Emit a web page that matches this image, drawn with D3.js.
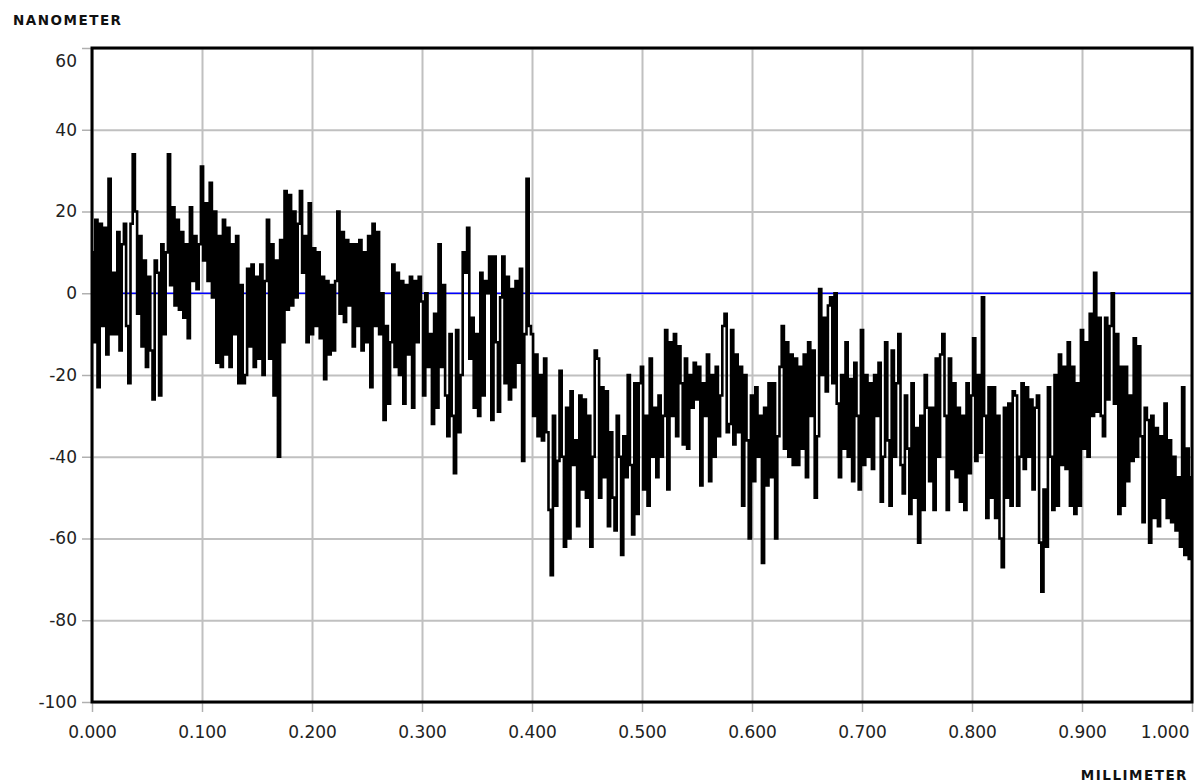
<!DOCTYPE html>
<html>
<head>
<meta charset="utf-8">
<script src="https://cdn.jsdelivr.net/npm/d3@7"></script>
<style>
  body { margin: 0; background: #fff; }
  svg { display: block; font-family: "DejaVu Sans", Verdana, sans-serif; }
</style>
</head>
<body>
<svg id="chart" width="1194" height="784"></svg>
<script>
// Axis ticks
var xTicks = [0, 0.1, 0.2, 0.3, 0.4, 0.5, 0.6, 0.7, 0.8, 0.9, 1.0];
var yTicks = [60, 40, 20, 0, -20, -40, -60, -80, -100];
var xTitle = "MILLIMETER";
var yTitle = "NANOMETER";

// Profile: one height (nm) every 0.002 mm
var sampleStep = 0.002;
var profileNm = [
  10, -12, 18, -23, 17, -8, 16, -15, 28, -10,
  5, -10, 15, -14, 12, 17, -8, -22, 17, 34,
  20, -5, 14, -13, 8, -18, 4, -14, -26, 8,
  5, -25, 12, -10, 10, 34, 2, 21, -3, 18,
  -4, 15, -6, 12, -11, 21, 3, 14, 1, 12,
  31, 8, 22, 3, 27, -1, 20, -17, 14, -18,
  18, -15, 16, -18, 12, -10, 14, -22, 2, -22,
  -20, 6, -13, 7, -18, 4, -16, 7, -20, 3,
  18, -16, 12, -25, 8, -40, 13, -12, 25, -4,
  24, -3, 20, -1, 17, 25, 5, 14, -12, 22,
  -10, 11, -8, 10, -11, 4, -21, 3, -15, 2,
  -14, 3, 20, -5, 15, -7, 13, -3, 12, -13,
  12, -8, 13, -14, 10, -12, 14, -23, 17, -8,
  15, -10, 0, -31, -8, -27, -12, 7, -18, 5,
  -20, 3, -27, 2, -15, 4, -28, 3, -12, 4,
  -2, -25, 0, -18, -10, -32, -5, -28, 12, -18,
  2, -25, -35, -10, -30, -44, -9, -34, -20, 10,
  5, 16, -16, -6, -28, -10, -30, 5, -25, 3,
  0, 9, -31, 9, -12, -29, -1, 9, -22, 4,
  -26, 1, -23, 3, -17, 6, -41, -10, 28, -8,
  -10, -30, -15, -35, -20, -36, -16, -34, -53, -69,
  -30, -52, -41, -19, -40, -62, -28, -60, -24, -42,
  -36, -57, -25, -48, -26, -50, -30, -62, -40, -14,
  -16, -50, -23, -45, -24, -57, -34, -50, -58, -30,
  -40, -64, -35, -45, -20, -42, -59, -22, -54, -22,
  -18, -48, -30, -52, -16, -40, -28, -45, -25, -40,
  -30, -9, -48, -12, -30, -10, -35, -13, -22, -37,
  -16, -38, -20, -28, -17, -26, -18, -47, -22, -30,
  -15, -46, -20, -40, -18, -35, -25, -8, -5, -34,
  -32, -9, -37, -15, -34, -18, -52, -20, -36, -60,
  -25, -46, -23, -40, -30, -66, -28, -47, -22, -45,
  -22, -60, -35, -18, -8, -38, -12, -40, -15, -42,
  -16, -42, -18, -38, -15, -45, -12, -30, -14, -50,
  -35, 1, -20, -6, -24, -3, -1, -22, 0, -27,
  -45, -20, -38, -12, -40, -21, -46, -17, -30, -48,
  -9, -42, -20, -40, -22, -43, -20, -30, -17, -51,
  -40, -12, -36, -52, -14, -40, -22, -10, -42, -49,
  -25, -38, -54, -22, -50, -33, -61, -30, -53, -20,
  -28, -46, -28, -53, -16, -40, -15, -10, -30, -53,
  -16, -43, -22, -45, -28, -51, -30, -53, -22, -44,
  -25, -11, -41, -20, -39, -1, -30, -55, -23, -50,
  -23, -55, -30, -60, -67, -28, -50, -27, -52, -24,
  -25, -52, -40, -22, -43, -23, -40, -26, -48, -28,
  -25, -61, -73, -48, -62, -23, -40, -53, -20, -52,
  -15, -42, -18, -43, -12, -52, -18, -54, -22, -52,
  -9, -38, -12, -40, -5, -30, 5, -29, -6, -30,
  -35, -6, -26, -8, 0, -27, -10, -54, -18, -52,
  -18, -46, -25, -41, -11, -40, -13, -35, -56, -28,
  -31, -61, -30, -55, -33, -57, -35, -50, -27, -55,
  -36, -56, -40, -58, -45, -62, -23, -64, -38, -65, -45
];

var plotLeft = 92, plotRight = 1192, plotTop = 48, plotBottom = 702;
var svg = d3.select('#chart');

var x = d3.scaleLinear().domain([0, 1]).range([plotLeft, plotRight]);
var y = d3.scaleLinear().domain([-100, 60]).range([plotBottom, plotTop]);

// grid
svg.append('g')
  .attr('transform', 'translate(0,' + plotBottom + ')')
  .call(d3.axisBottom(x).tickValues(xTicks).tickSize(-(plotBottom - plotTop)).tickSizeOuter(0).tickFormat(''))
  .call(function(g) { g.select('.domain').remove(); })
  .selectAll('line').attr('stroke', '#c0c0c0').attr('stroke-width', 2);
svg.append('g')
  .attr('transform', 'translate(' + plotLeft + ',0)')
  .call(d3.axisLeft(y).tickValues(yTicks).tickSize(-(plotRight - plotLeft)).tickSizeOuter(0).tickFormat(''))
  .call(function(g) { g.select('.domain').remove(); })
  .selectAll('line').attr('stroke', '#c0c0c0').attr('stroke-width', 2);

// ticks + labels (plain hyphen for negatives, as in the original)
var xAxis = svg.append('g')
  .attr('transform', 'translate(0,' + plotBottom + ')')
  .call(d3.axisBottom(x).tickValues(xTicks).tickSize(10).tickSizeOuter(0).tickPadding(14)
    .tickFormat(function(d) { return d.toFixed(3); }));
var yAxis = svg.append('g')
  .attr('transform', 'translate(' + plotLeft + ',0)')
  .call(d3.axisLeft(y).tickValues(yTicks).tickSize(10).tickSizeOuter(0).tickPadding(5)
    .tickFormat(function(d) { return String(d); }));
[xAxis, yAxis].forEach(function(g) {
  g.select('.domain').remove();
  g.selectAll('line').attr('stroke', '#b0b0b0').attr('stroke-width', 1.5);
  g.selectAll('text').attr('font-size', 17).attr('fill', '#222')
    .attr('font-family', '"DejaVu Sans", Verdana, sans-serif');
});
// end labels pulled inside
yAxis.selectAll('.tick').filter(function(d) { return d === 60; })
  .select('text').attr('dy', '1.1em');
xAxis.selectAll('.tick').filter(function(d) { return d === 1; })
  .select('text').attr('text-anchor', 'end').attr('x', -3);

// zero line
svg.append('line')
  .attr('x1', plotLeft).attr('x2', plotRight)
  .attr('y1', y(0)).attr('y2', y(0))
  .attr('stroke', '#0000ff').attr('stroke-width', 1.5);

// profile
svg.append('path')
  .datum(profileNm)
  .attr('fill', 'none')
  .attr('stroke', '#000')
  .attr('stroke-width', 2.6)
  .attr('d', d3.line()
    .curve(d3.curveStep)
    .x(function(d, i) { return x(i * sampleStep); })
    .y(function(d) { return y(d); }));

// frame
svg.append('rect')
  .attr('x', plotLeft).attr('y', plotTop)
  .attr('width', plotRight - plotLeft).attr('height', plotBottom - plotTop)
  .attr('fill', 'none').attr('stroke', '#000').attr('stroke-width', 3);

// axis titles
svg.append('text')
  .attr('x', 13).attr('y', 25)
  .attr('font-size', 13.5).attr('font-weight', 'bold')
  .attr('letter-spacing', 1.5).attr('fill', '#111')
  .text(yTitle);
svg.append('text')
  .attr('x', 1188).attr('y', 780)
  .attr('text-anchor', 'end')
  .attr('font-size', 13.5).attr('font-weight', 'bold')
  .attr('letter-spacing', 1.5).attr('fill', '#111')
  .text(xTitle);
</script>
</body>
</html>
